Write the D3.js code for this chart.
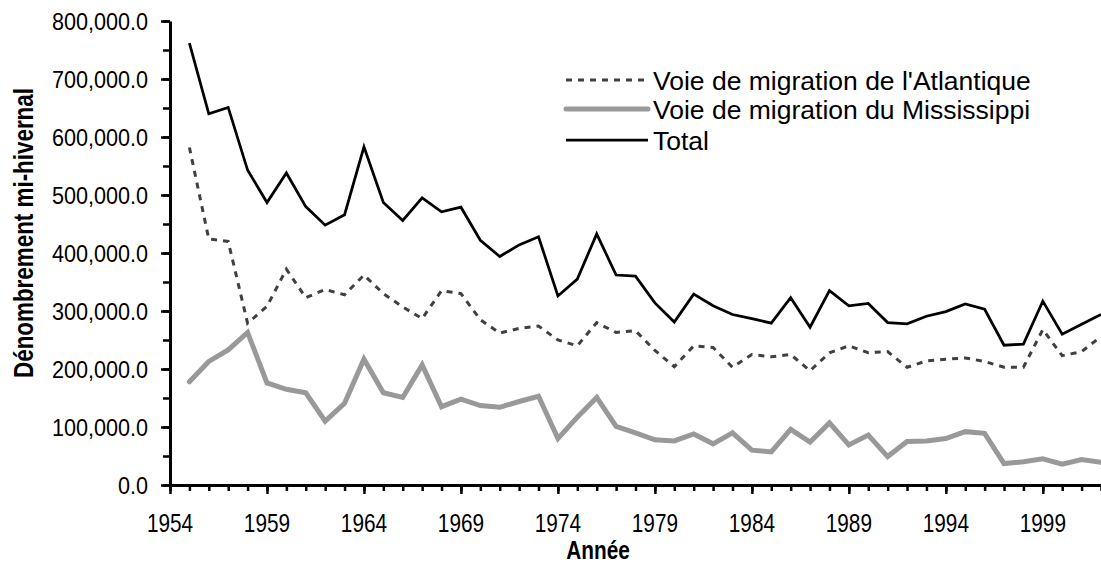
<!DOCTYPE html>
<html>
<head>
<meta charset="utf-8">
<script src="https://cdn.jsdelivr.net/npm/d3@7"></script>
<style>
  body { margin: 0; background: #fff; }
  svg { display: block; font-family: "Liberation Sans", Arial, sans-serif; }
  .axis path, .axis line { stroke: #000; }
</style>
</head>
<body>
<div id="chart"></div>
<script>
// données (milliers)
const years = [1955,1956,1957,1958,1959,1960,1961,1962,1963,1964,
  1965,1966,1967,1968,1969,1970,1971,1972,1973,1974,
  1975,1976,1977,1978,1979,1980,1981,1982,1983,1984,
  1985,1986,1987,1988,1989,1990,1991,1992,1993,1994,
  1995,1996,1997,1998,1999,2000,2001,2002];

const atlantic = [582,424,420,279,308,372,323,337,328,362,
  330,307,287,335,330,285,262,270,274,250,
  240,280,263,266,232,204,240,237,203,225,
  221,225,197,228,240,228,230,203,214,217,
  219,213,203,203,268,223,230,256];

const mississippi = [178,213,233,263,176,165,159,110,141,217,
  159,151,207,135,148,137,134,144,153,80,
  117,151,101,90,78,76,88,71,90,60,
  57,96,74,107,69,86,49,75,76,80,
  92,89,37,40,45,36,44,39];

const total = [762,640,651,543,487,538,480,448,466,583,
  487,456,495,471,479,422,394,414,428,326,
  355,433,362,360,314,281,329,309,294,287,
  279,323,272,335,309,313,280,278,291,299,
  312,303,241,243,317,260,277,294];

const seriesNames = ["Voie de migration de l'Atlantique", "Voie de migration du Mississippi", "Total"];
const yTicks = [0,100000,200000,300000,400000,500000,600000,700000,800000];
const xTicks = [1954,1959,1964,1969,1974,1979,1984,1989,1994,1999];

const svg = d3.select("#chart")
  .append("svg")
  .attr("width", 1101)
  .attr("height", 566);

const x = d3.scaleLinear().domain([1954, 2002]).range([170, 1101]);
const y = d3.scaleLinear().domain([0, 800000]).range([485, 21]);

const fmt = d3.format(",.1f");
const cond = 0.8; // texte condensé des axes

//axe des y : petites graduations puis grandes
svg.append("g")
  .attr("class", "axis")
  .attr("transform", "translate(170,0)")
  .call(d3.axisLeft(y).tickValues(d3.range(0, 800001, 50000)).tickSize(7).tickFormat(""))
  .call(g => g.selectAll("line").attr("stroke-width", 2.5))
  .call(g => g.select(".domain").remove());

svg.append("g")
  .attr("class", "axis")
  .attr("transform", "translate(170,0)")
  .call(d3.axisLeft(y).tickValues(yTicks).tickSize(9).tickSizeOuter(0).tickFormat(""))
  .call(g => g.selectAll("line").attr("stroke-width", 2.5))
  .call(g => g.select(".domain").attr("stroke-width", 3));

//axe des x
svg.append("g")
  .attr("class", "axis")
  .attr("transform", "translate(0,485)")
  .call(d3.axisBottom(x).tickValues(d3.range(1954, 2003)).tickSize(6).tickFormat(""))
  .call(g => g.selectAll("line").attr("stroke-width", 2.5))
  .call(g => g.select(".domain").remove());

svg.append("g")
  .attr("class", "axis")
  .attr("transform", "translate(0,485)")
  .call(d3.axisBottom(x).tickValues(xTicks).tickSize(9).tickSizeOuter(0).tickFormat(""))
  .call(g => g.selectAll("line").attr("stroke-width", 2.5))
  .call(g => g.select(".domain").attr("stroke-width", 3));

// étiquettes
svg.append("g").selectAll("text")
  .data(yTicks)
  .enter()
  .append("text")
    .attr("transform", d => `translate(148,${y(d) + 9}) scale(0.9,1)`)
    .attr("text-anchor", "end")
    .attr("font-size", 24)
    .text(d => fmt(d));

svg.append("g").selectAll("text")
  .data(xTicks)
  .enter()
  .append("text")
    .attr("transform", d => `translate(${x(d)},532) scale(${cond},1)`)
    .attr("text-anchor", "middle")
    .attr("font-size", 26)
    .text(d => d);

svg.append("text")
  .attr("transform", `translate(598,559) scale(${cond},1)`)
  .attr("text-anchor", "middle")
  .attr("font-size", 26)
  .attr("font-weight", "bold")
  .text("Année");

svg.append("text")
  .attr("transform", `translate(33,233) rotate(-90) scale(${cond},1)`)
  .attr("text-anchor", "middle")
  .attr("font-size", 28)
  .attr("font-weight", "bold")
  .text("Dénombrement mi-hivernal");

// courbes
const styles = [
  {values: atlantic, stroke: "#404040", width: 3, dash: "6,6", cap: "butt"},
  {values: mississippi, stroke: "#999999", width: 5, dash: null, cap: "round"},
  {values: total, stroke: "#000000", width: 2.75, dash: null, cap: "butt"}
];

const line = d3.line()
  .x((d, i) => x(years[i]))
  .y(d => y(d * 1000));

svg.append("g").selectAll("path")
  .data(styles)
  .enter()
  .append("path")
    .attr("d", d => line(d.values))
    .attr("fill", "none")
    .attr("stroke", d => d.stroke)
    .attr("stroke-width", d => d.width)
    .attr("stroke-dasharray", d => d.dash)
    .attr("stroke-linejoin", "miter")
    .attr("stroke-linecap", d => d.cap);

// légende
const legendY = [80, 109, 140];
const legend = svg.append("g").selectAll("g")
  .data(styles)
  .enter()
  .append("g");

legend.append("line")
  .attr("x1", 566).attr("x2", 648)
  .attr("y1", (d, i) => legendY[i]).attr("y2", (d, i) => legendY[i])
  .attr("stroke", d => d.stroke)
  .attr("stroke-width", d => d.width)
  .attr("stroke-dasharray", d => d.dash)
  .attr("stroke-linecap", d => d.cap);

legend.append("text")
  .attr("x", 653)
  .attr("y", (d, i) => legendY[i] + 10)
  .attr("font-size", 26.5)
  .text((d, i) => seriesNames[i]);
</script>
</body>
</html>
